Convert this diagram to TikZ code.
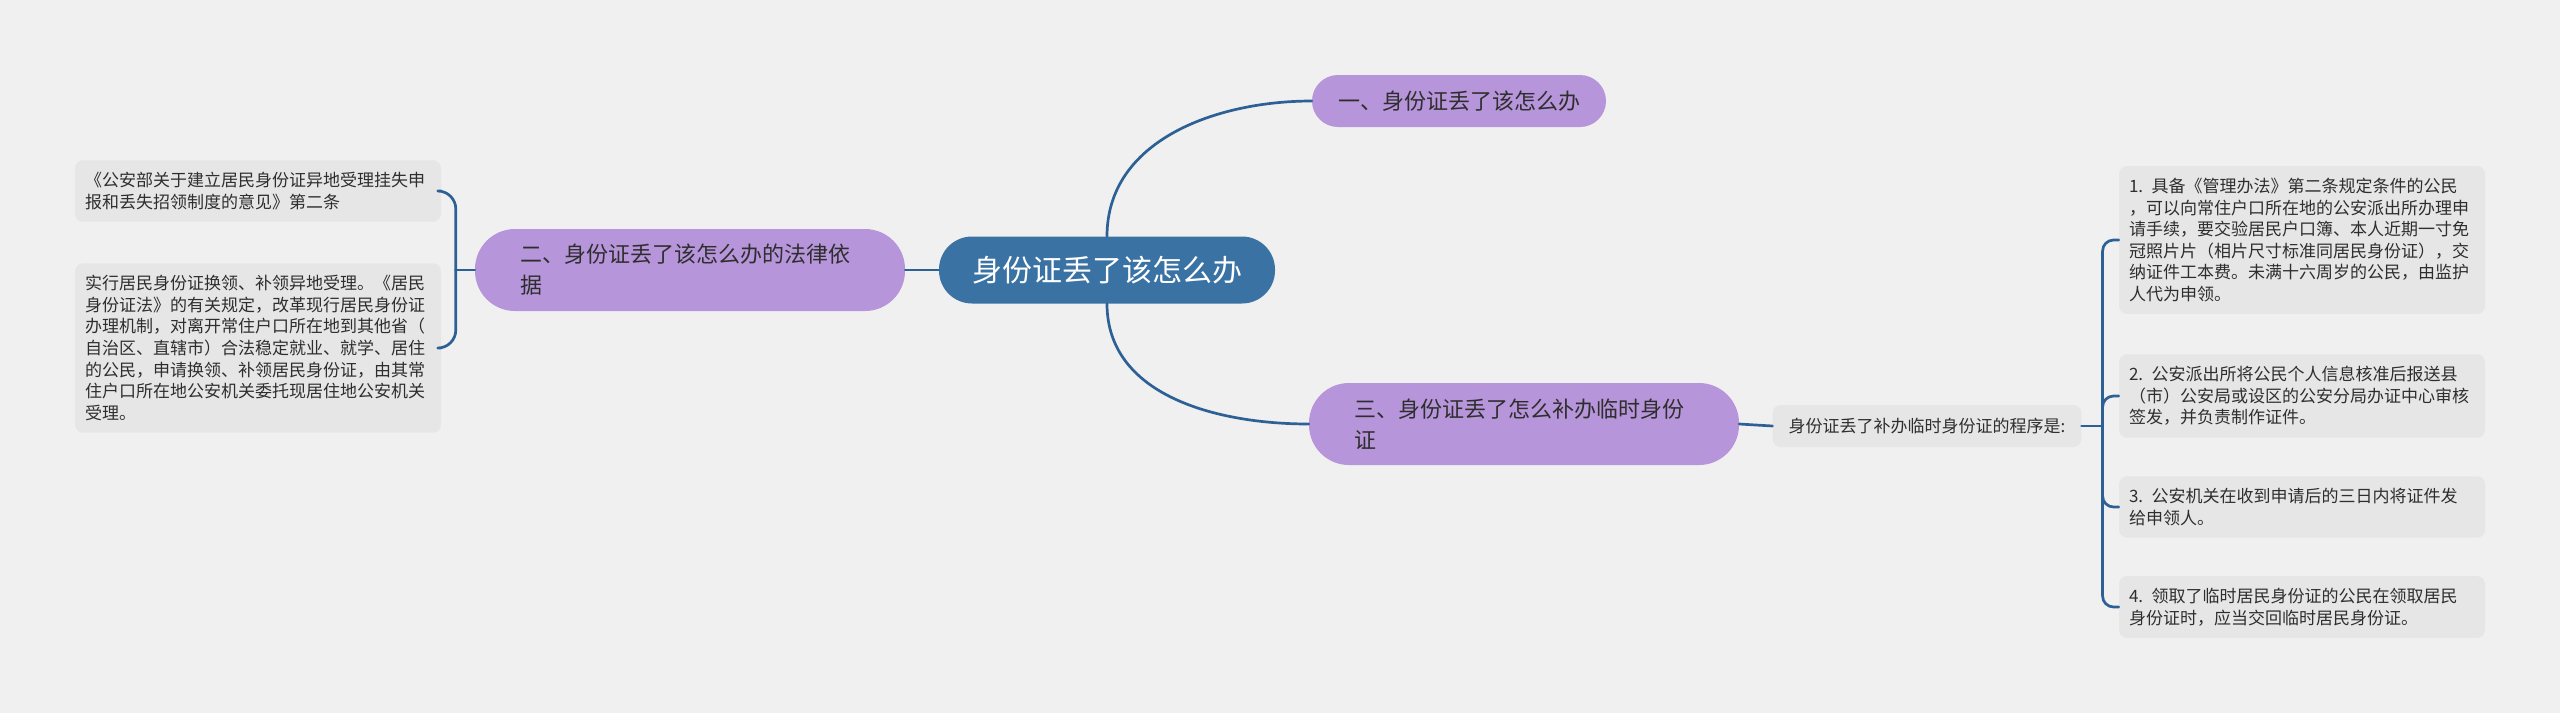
\documentclass[tikz,border=0pt]{standalone}
\usepackage{fontspec}
\setmainfont{Noto Sans CJK SC}
\usepackage{xcolor}
\usepackage{tikz}
\usetikzlibrary{calc, positioning}
\definecolor{Background}{HTML}{F0F0F0}
\definecolor{RootBlue}{HTML}{3A72A4}
\definecolor{TopicPurple}{HTML}{B795DA}
\definecolor{LeafGrey}{HTML}{E6E6E6}
\definecolor{LineBlue}{HTML}{2D6195}
\definecolor{TextDark}{HTML}{2E2E2E}

\begin{document}
\begin{tikzpicture}[x = 1pt, y = 1pt, line join = round, line cap = round,
    root/.style = {fill = RootBlue, text = white, rounded corners = 33pt,
                   font = \fontsize{30}{36}\selectfont, minimum width = 336pt, minimum height = 67pt},
    topic/.style = {fill = TopicPurple, text = TextDark, align = left,
                    font = \fontsize{22}{31}\selectfont},
    leaf/.style = {fill = LeafGrey, text = TextDark, rounded corners = 8pt, align = left,
                   font = \fontsize{17}{21.6}\selectfont, text width = 346pt,
                   inner xsep = 10pt, inner ysep = 12pt},
    branch/.style = {draw = LineBlue, line width = 2.7pt}]

    \fill[Background] (0, 0) rectangle (2560, -713);
    \useasboundingbox (0, 0) rectangle (2560, -713);

    % centre and main topics
    \node[root] (root) at (1107, -270) {身份证丢了该怎么办};
    \node[topic, rounded corners = 26pt, minimum height = 52pt, inner xsep = 26pt] (n1) at (1459, -101) {一、身份证丢了该怎么办};
    \node[topic, rounded corners = 40pt, minimum height = 82pt, text width = 340pt, inner xsep = 45pt] (n2) at (690, -270)
        {二、身份证丢了该怎么办的法律依\\据};
    \node[topic, rounded corners = 40pt, minimum height = 82pt, text width = 340pt, inner xsep = 45pt] (n3) at (1524, -424)
        {三、身份证丢了怎么补办临时身份\\证};
    \node[fill = LeafGrey, text = TextDark, rounded corners = 8pt, font = \fontsize{17}{21.6}\selectfont,
          minimum height = 42pt, inner xsep = 16pt] (proc) at (1927, -426) {身份证丢了补办临时身份证的程序是:};

    % left leaves
    \node[leaf] (la) at (258, -191)
        {《公安部关于建立居民身份证异地受理挂失申\\报和丢失招领制度的意见》第二条};
    \node[leaf] (lb) at (258, -348)
        {实行居民身份证换领、补领异地受理。《居民\\
         身份证法》的有关规定，改革现行居民身份证\\
         办理机制，对离开常住户口所在地到其他省（\\
         自治区、直辖市）合法稳定就业、就学、居住\\
         的公民，申请换领、补领居民身份证，由其常\\
         住户口所在地公安机关委托现居住地公安机关\\
         受理。};

    % right leaves
    \node[leaf] (r1) at (2302, -240)
        {1. 具备《管理办法》第二条规定条件的公民\\
         ，可以向常住户口所在地的公安派出所办理申\\
         请手续，要交验居民户口簿、本人近期一寸免\\
         冠照片片（相片尺寸标准同居民身份证），交\\
         纳证件工本费。未满十六周岁的公民，由监护\\
         人代为申领。};
    \node[leaf] (r2) at (2302, -396)
        {2. 公安派出所将公民个人信息核准后报送县\\
         （市）公安局或设区的公安分局办证中心审核\\
         签发，并负责制作证件。};
    \node[leaf] (r3) at (2302, -507)
        {3. 公安机关在收到申请后的三日内将证件发\\给申领人。};
    \node[leaf] (r4) at (2302, -607)
        {4. 领取了临时居民身份证的公民在领取居民\\身份证时，应当交回临时居民身份证。};

    % connectors
    \draw[branch] (root.north) to[out = 90, in = 180] (n1.west);
    \draw[branch] (root.south) to[out = -90, in = 180] (n3.west);
    \draw[branch] (root.west) -- (n2.east);
    \draw[branch] (n3.east) -- (proc.west);

    \coordinate (jl) at ($(n2.west) + (-19, 0)$);
    \draw[branch] (n2.west) -- (jl);
    \foreach \leaf in {la, lb}
        \draw[branch, rounded corners = 18pt] (jl) |- (\leaf.east);

    \coordinate (jr) at ($(proc.east) + (21, 0)$);
    \draw[branch] (proc.east) -- (jr);
    \foreach \leaf in {r1, r2, r3, r4}
        \draw[branch, rounded corners = 11pt] (jr) |- (\leaf.west);
\end{tikzpicture}
\end{document}
